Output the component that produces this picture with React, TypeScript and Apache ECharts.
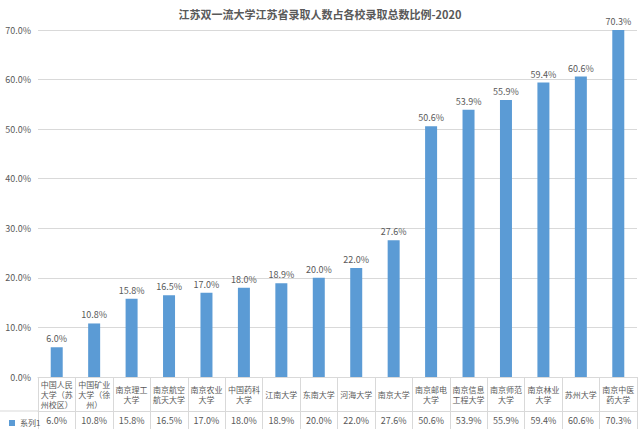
import React, { useEffect, useRef } from 'react';
import * as echarts from 'echarts';

const categories = [
  '中国人民\n大学（苏\n州校区）',
  '中国矿业\n大学（徐\n州）',
  '南京理工\n大学',
  '南京航空\n航天大学',
  '南京农业\n大学',
  '中国药科\n大学',
  '江南大学',
  '东南大学',
  '河海大学',
  '南京大学',
  '南京邮电\n大学',
  '南京信息\n工程大学',
  '南京师范\n大学',
  '南京林业\n大学',
  '苏州大学',
  '南京中医\n药大学',
];
const values = [6.0, 10.8, 15.8, 16.5, 17.0, 18.0, 18.9, 20.0, 22.0, 27.6, 50.6, 53.9, 55.9, 59.4, 60.6, 70.3];
const seriesName = '系列1';
const title = '江苏双一流大学江苏省录取人数占各校录取总数比例-2020';

const FONT = 'Noto Sans CJK SC';
const TXT = '#595959';
const LINE = '#d9d9d9';
const BAR = '#5b9bd5';

function App() {
  const chartRef = useRef(null);

  useEffect(() => {
    document.body.style.margin = '0';
    if (!chartRef.current) return;
    const chart = echarts.init(chartRef.current, null, { renderer: 'svg' });

    const pct = (v) => v.toFixed(1) + '%';

    const options = {
      animation: false,
      textStyle: { fontFamily: FONT, color: TXT },
      title: {
        text: title,
        left: 'center',
        top: 3,
        textStyle: { fontFamily: FONT, fontSize: 11, fontWeight: 'bold', color: TXT },
      },
      legend: {
        data: [seriesName],
        left: 4,
        top: 414,
        icon: 'rect',
        itemWidth: 6,
        itemHeight: 6,
        itemGap: 4,
        textStyle: { fontFamily: FONT, fontSize: 8, color: TXT },
      },
      grid: { left: 38, right: 3, top: 30, bottom: 52 },
      xAxis: [
        {
          type: 'category',
          data: categories,
          position: 'bottom',
          axisLine: { lineStyle: { color: LINE } },
          axisTick: { show: true, length: 34, lineStyle: { color: LINE } },
          axisLabel: {
            interval: 0,
            margin: 17,
            verticalAlign: 'middle',
            lineHeight: 10,
            fontSize: 8,
            color: TXT,
            fontFamily: FONT,
          },
        },
        {
          type: 'category',
          data: categories,
          position: 'bottom',
          offset: 34,
          axisLine: { lineStyle: { color: LINE } },
          axisTick: { show: true, length: 18, lineStyle: { color: LINE } },
          axisLabel: {
            interval: 0,
            margin: 9,
            verticalAlign: 'middle',
            fontSize: 9,
            color: TXT,
            fontFamily: FONT,
            formatter: (_v, i) => pct(values[i]),
          },
        },
      ],
      yAxis: {
        type: 'value',
        min: 0,
        max: 70,
        interval: 10,
        axisLine: { show: false },
        axisTick: { show: false },
        splitLine: { lineStyle: { color: LINE } },
        axisLabel: { fontSize: 9, color: TXT, margin: 7, fontFamily: FONT, formatter: (v) => pct(v) },
      },
      graphic: [
        {
          type: 'line',
          shape: { x1: 0, y1: 411, x2: 38, y2: 411 },
          style: { stroke: LINE, lineWidth: 1 },
        },
      ],
      series: [
        {
          name: seriesName,
          type: 'bar',
          data: values,
          barWidth: 12,
          itemStyle: { color: BAR },
          label: {
            show: true,
            position: 'top',
            distance: 4,
            fontSize: 9,
            color: TXT,
            fontFamily: FONT,
            formatter: (p) => pct(p.value),
          },
        },
      ],
    };

    chart.setOption(options);
    return () => chart.dispose();
  }, []);

  return <div ref={chartRef} style={{ width: '640px', height: '429px' }} />;
}

export default App;
